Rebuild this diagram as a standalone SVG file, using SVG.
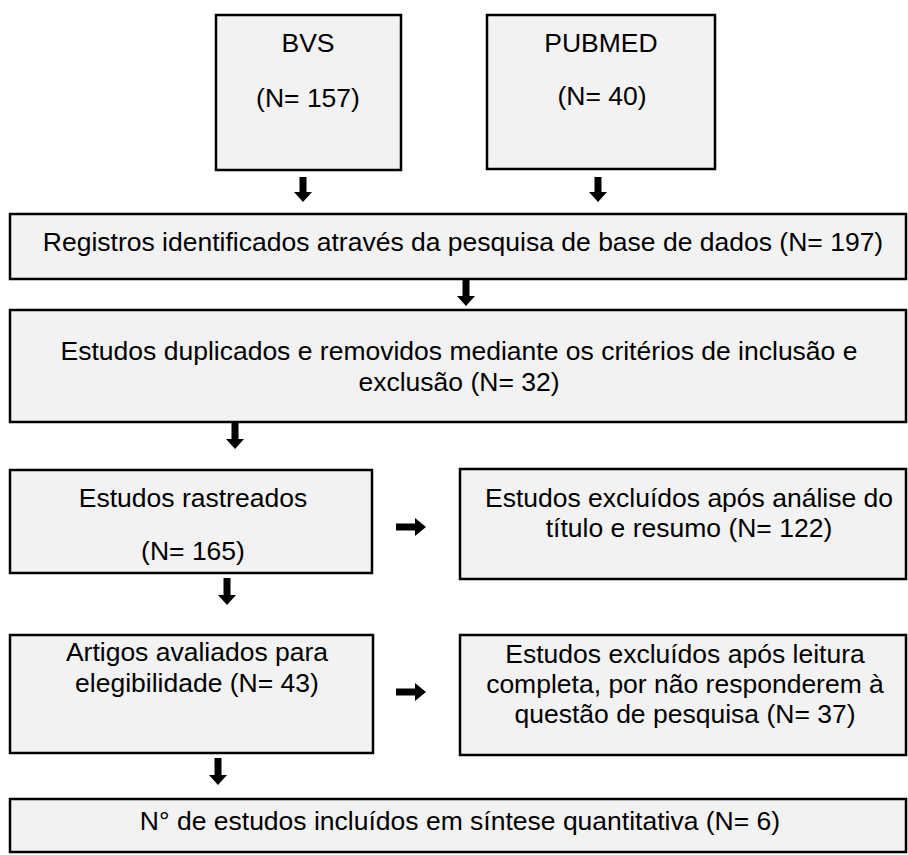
<svg xmlns="http://www.w3.org/2000/svg" width="908" height="855" viewBox="0 0 908 855">
<style>
.box{fill:#f2f2f2;stroke:#000;stroke-width:2.5}
.t{font-family:"Liberation Sans",Arial,sans-serif;font-size:26.5px;fill:#000;text-anchor:middle}
.arr{fill:#000}
</style>
<rect width="908" height="855" fill="#fff"/>
<g id="bvs"><rect class="box" x="216" y="15" width="185" height="155"/><text class="t" x="308" y="52">BVS</text><text class="t" x="308" y="107">(N= 157)</text></g>
<g id="pubmed"><rect class="box" x="487" y="15" width="228" height="154"/><text class="t" x="601" y="52">PUBMED</text><text class="t" x="602" y="105">(N= 40)</text></g>
<g id="registros"><rect class="box" x="10" y="214" width="896" height="65"/><text class="t" x="463" y="251">Registros identificados através da pesquisa de base de dados (N= 197)</text></g>
<g id="duplicados"><rect class="box" x="10" y="310" width="896" height="112"/><text class="t" x="459" y="360">Estudos duplicados e removidos mediante os critérios de inclusão e</text><text class="t" x="459" y="391">exclusão (N= 32)</text></g>
<g id="rastreados"><rect class="box" x="10" y="470" width="362" height="103"/><text class="t" x="193" y="507">Estudos rastreados</text><text class="t" x="193" y="560">(N= 165)</text></g>
<g id="excluidos1"><rect class="box" x="460" y="469" width="446" height="110"/><text class="t" x="689" y="507">Estudos excluídos após análise do</text><text class="t" x="689" y="537">título e resumo (N= 122)</text></g>
<g id="artigos"><rect class="box" x="10" y="635" width="363" height="118"/><text class="t" x="197" y="661">Artigos avaliados para</text><text class="t" x="197" y="692">elegibilidade (N= 43)</text></g>
<g id="excluidos2"><rect class="box" x="460" y="635" width="446" height="120"/><text class="t" x="685" y="663">Estudos excluídos após leitura</text><text class="t" x="685" y="693">completa, por não responderem à</text><text class="t" x="685" y="723">questão de pesquisa (N= 37)</text></g>
<g id="incluidos"><rect class="box" x="10" y="799" width="896" height="53"/><text class="t" x="460" y="830">N° de estudos incluídos em síntese quantitativa (N= 6)</text></g>
<g id="connectors" class="arr">
<polygon points="299.5,177 306.5,177 306.5,192 312,192 303,202 294,192 299.5,192"/>
<polygon points="594.5,177 601.5,177 601.5,192 607,192 598,202 589,192 594.5,192"/>
<polygon points="462.5,280 469.5,280 469.5,296 475,296 466,306 457,296 462.5,296"/>
<polygon points="231.5,422 238.5,422 238.5,439 244,439 235,449 226,439 231.5,439"/>
<polygon points="223.5,578 230.5,578 230.5,595 236,595 227,605 218,595 223.5,595"/>
<polygon points="214.5,758 221.5,758 221.5,775 227,775 218,785 209,775 214.5,775"/>
<polygon points="396,523.5 415,523.5 415,518 426,527 415,536 415,530.5 396,530.5"/>
<polygon points="396,688.5 415,688.5 415,683 426,692 415,701 415,695.5 396,695.5"/>
</g>
</svg>
